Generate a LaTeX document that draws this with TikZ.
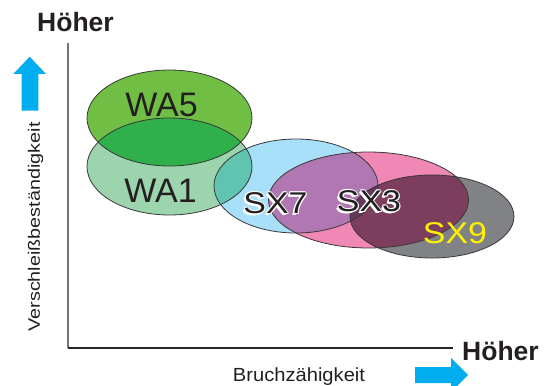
\documentclass[tikz,border=0pt]{standalone}
\usepackage{fontspec}
\setmainfont{Liberation Sans}
\usepackage{graphicx}
\definecolor{cWAfive}{HTML}{70BF44}
\definecolor{cWAone}{HTML}{9CD4AD}
\definecolor{cWAboth}{HTML}{2FB04B}
\definecolor{cSXseven}{HTML}{A7E0F8}
\definecolor{cWAoneSX}{HTML}{60C4B0}
\definecolor{cSXthree}{HTML}{F088B5}
\definecolor{cSXst}{HTML}{B077B2}
\definecolor{cSXnine}{HTML}{808285}
\definecolor{cSXtn}{HTML}{7D3D5C}
\definecolor{cSXtriple}{HTML}{633A5C}
\definecolor{cArrow}{HTML}{00AEEF}
\definecolor{cText}{HTML}{231F20}
\definecolor{cYellow}{HTML}{FFF200}
\tikzset{
  outline/.style={draw=black!78, line width=0.8pt},
  bigtxt/.style={text=cText, font=\fontsize{34}{34}\selectfont, inner sep=0pt, anchor=base},
  sxtxt/.style={text=cText, font=\fontsize{30}{30}\selectfont, inner sep=0pt, anchor=base},
  sxwhite/.style={sxtxt, text=white},
  hoeher/.style={text=cText, font=\fontsize{26.5}{26.5}\selectfont\bfseries, inner sep=0pt, anchor=base},
  axislabel/.style={text=cText, inner sep=0pt, anchor=base},
  arrowshape/.style={fill=cArrow}
}
\begin{document}
\begin{tikzpicture}[x=1pt,y=-1pt]
\useasboundingbox (0,0) rectangle (548,385);
\clip (0,0) rectangle (548,385);
\def\pWAfive{(169.5,118) ellipse [x radius=82.5, y radius=48]}
\def\pWAone{(169.5,166.5) ellipse [x radius=82.5, y radius=48.5]}
\def\pSXseven{(296,186) ellipse [x radius=82, y radius=47]}
\def\pSXthree{(368.5,200) ellipse [x radius=100, y radius=48]}
\def\pSXnine{(432,216.5) ellipse [x radius=82, y radius=41.5]}

% axes
\coordinate (origin) at (68,348);
\coordinate (ytop) at (68,43);
\coordinate (xend) at (453,348);
\draw[line width=1.1pt, draw=black!55] (origin) -- (ytop);
\draw[line width=1.1pt, draw=black!85] (origin) -- (xend);

% fills
\fill[cWAone] \pWAone;
\fill[cWAfive] \pWAfive;
\fill[cSXseven] \pSXseven;
\fill[cSXthree] \pSXthree;
\fill[cSXnine] \pSXnine;
\begin{scope}\clip \pWAfive; \fill[cWAboth] \pWAone; \end{scope}
\begin{scope}\clip \pWAone; \fill[cWAoneSX] \pSXseven; \end{scope}
\begin{scope}\clip \pSXseven; \fill[cSXst] \pSXthree; \end{scope}
\begin{scope}\clip \pSXthree; \fill[cSXtn] \pSXnine; \end{scope}
\begin{scope}\clip \pSXthree; \clip \pSXseven; \fill[cSXtriple] \pSXnine; \end{scope}

% outlines
\draw[outline] \pWAone;
\draw[outline] \pWAfive;
\draw[outline] \pSXseven;
\draw[outline] \pSXthree;
\draw[outline] \pSXnine;

% labels
\node[bigtxt] (wa5) at (161.5,117) {WA5};
\node[bigtxt] (wa1) at (160.5,202) {WA1};
\foreach \dx/\dy in {-1.8/1.6,-1.2/0,0/1.3,-1.2/1.2,1/0,0/-1,-1/-1,1/1,-2/2.2}{
  \node[sxwhite] at (275.5+\dx,213.5+\dy) {\scalebox{1.13}[1]{SX7}};
  \node[sxwhite] at (369+\dx,211.5+\dy) {\scalebox{1.13}[1]{SX3}};
}
\node[sxtxt] (sx7) at (275.5,213.5) {\scalebox{1.13}[1]{SX7}};
\node[sxtxt] (sx3) at (369,211.5) {\scalebox{1.13}[1]{SX3}};
\node[sxtxt, text=cYellow] (sx9) at (455,243.3) {\scalebox{1.13}[1]{SX9}};

\node[hoeher] (hy) at (75.5,32) {Höher};
\node[hoeher] (hx) at (500.5,360) {Höher};
\node[axislabel, rotate=90] (ylab) at (39.8,227) {\scalebox{1.2}[1]{\fontsize{16.5}{16.5}\selectfont Verschleißbeständigkeit}};
\node[axislabel] (xlab) at (299,381.7) {\scalebox{1.06}[1]{\fontsize{19}{19}\selectfont Bruchzähigkeit}};

% arrows
\fill[arrowshape] (21.7,110.7) -- (21.7,74) -- (13.3,74) -- (29.7,56.7) -- (46,74) -- (38.3,74) -- (38.3,110.7) -- cycle;
\fill[arrowshape] (415,367) -- (451,367) -- (451,358) -- (468,375) -- (451,392) -- (451,383) -- (415,383) -- cycle;
\end{tikzpicture}
\end{document}
